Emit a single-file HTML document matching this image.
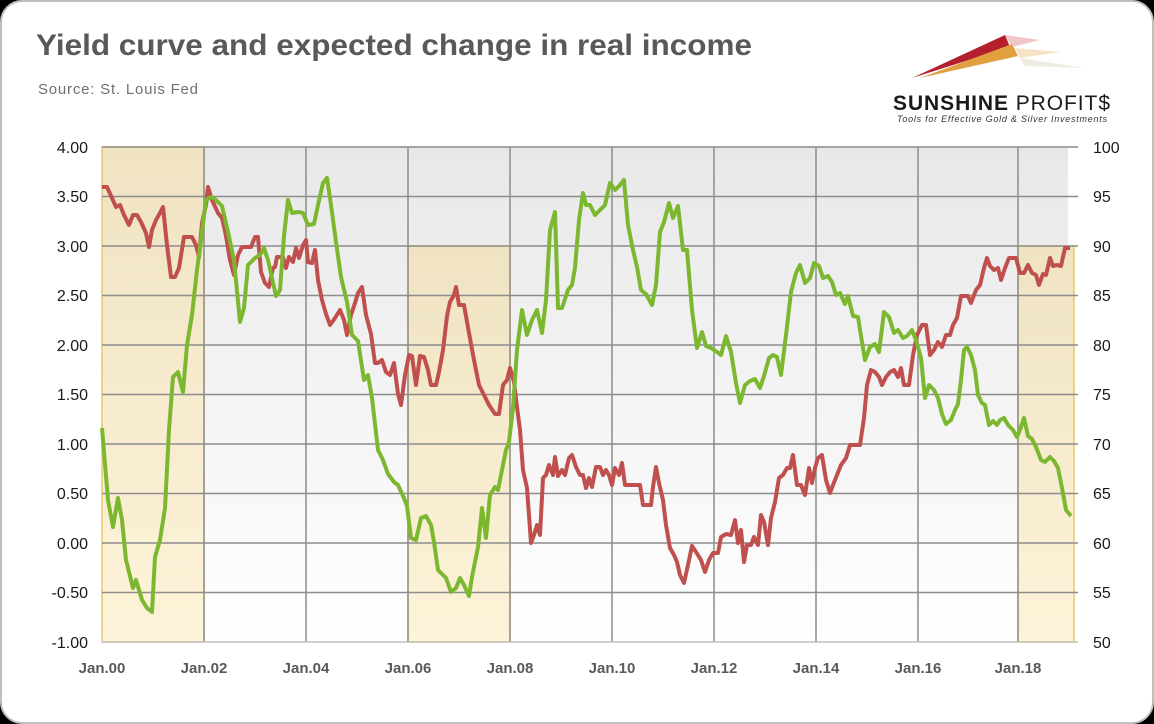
<!DOCTYPE html>
<html><head><meta charset="utf-8"><style>
body{margin:0;background:#000;}
.card{position:absolute;left:0;top:0;width:1150px;height:720px;background:#fff;border:2px solid #bfbfbf;border-radius:22px;overflow:hidden;font-family:"Liberation Sans",sans-serif;}
</style></head><body>
<div class="card">
<svg width="1154" height="724" viewBox="0 0 1154 724" style="position:absolute;left:-2px;top:-2px">
<defs>
<linearGradient id="bg" x1="0" y1="0" x2="0" y2="1"><stop offset="0" stop-color="#e8e8e8"/><stop offset="1" stop-color="#ffffff"/></linearGradient>
<linearGradient id="rc" x1="0" y1="0" x2="0" y2="1"><stop offset="0" stop-color="#f0e3c4"/><stop offset="1" stop-color="#fdf3d8"/></linearGradient>
</defs>
<text x="36" y="55" font-size="30" font-weight="bold" fill="#595959" textLength="716" lengthAdjust="spacingAndGlyphs">Yield curve and expected change in real income</text>
<text x="38" y="94" font-size="15" fill="#707070" textLength="160">Source: St. Louis Fed</text>
<!-- logo -->
<polygon points="912,78 1005,35 1010,47" fill="#b5202e"/>
<polygon points="920,78 1012,44 1018,56" fill="#e0a040"/>
<polygon points="1005,35 1040,40 1012,47" fill="#e8a0a0" opacity="0.6"/>
<polygon points="1015,48 1060,52 1020,58" fill="#f0d0a0" opacity="0.6"/>
<polygon points="1020,58 1085,68 1025,66" fill="#e8e4d8" opacity="0.7"/>
<text x="893" y="110" font-size="21" font-weight="bold" fill="#1a1a1a" textLength="217">SUNSHINE <tspan font-weight="normal">PROFIT$</tspan></text>
<text x="897" y="122" font-size="9" font-style="italic" fill="#333" textLength="210">Tools for Effective Gold &amp; Silver Investments</text>
<rect x="102" y="147" width="966" height="495" fill="url(#bg)"/>
<g fill="url(#rc)" stroke="#e8c96a" stroke-width="1.5">
<rect x="102" y="147" width="102" height="495"/>
<rect x="408" y="246" width="102" height="396"/>
<rect x="1018" y="246" width="56" height="396"/>
</g>
<g stroke="#8c8c8c" stroke-width="1.5">
<line x1="102" y1="147" x2="1078" y2="147"/><line x1="102" y1="196.5" x2="1078" y2="196.5"/><line x1="102" y1="246" x2="1078" y2="246"/><line x1="102" y1="295.5" x2="1078" y2="295.5"/><line x1="102" y1="345" x2="1078" y2="345"/><line x1="102" y1="394.5" x2="1078" y2="394.5"/><line x1="102" y1="444" x2="1078" y2="444"/><line x1="102" y1="493.5" x2="1078" y2="493.5"/><line x1="102" y1="543" x2="1078" y2="543"/><line x1="102" y1="592.5" x2="1078" y2="592.5"/>
<line x1="204" y1="147" x2="204" y2="642"/><line x1="306" y1="147" x2="306" y2="642"/><line x1="408" y1="147" x2="408" y2="642"/><line x1="510" y1="147" x2="510" y2="642"/><line x1="612" y1="147" x2="612" y2="642"/><line x1="714" y1="147" x2="714" y2="642"/><line x1="816" y1="147" x2="816" y2="642"/><line x1="918" y1="147" x2="918" y2="642"/><line x1="1018" y1="147" x2="1018" y2="642"/>
</g>
<line x1="102" y1="642" x2="1078" y2="642" stroke="#bfbfbf" stroke-width="1.5"/>
<g font-size="16" fill="#1a1a1a" text-anchor="end">
<text x="88" y="153">4.00</text><text x="88" y="202">3.50</text><text x="88" y="252">3.00</text><text x="88" y="301">2.50</text><text x="88" y="351">2.00</text><text x="88" y="400">1.50</text><text x="88" y="450">1.00</text><text x="88" y="499">0.50</text><text x="88" y="549">0.00</text><text x="88" y="598">-0.50</text><text x="88" y="648">-1.00</text>
</g>
<g font-size="16" fill="#1a1a1a">
<text x="1093" y="153">100</text><text x="1093" y="202">95</text><text x="1093" y="252">90</text><text x="1093" y="301">85</text><text x="1093" y="351">80</text><text x="1093" y="400">75</text><text x="1093" y="450">70</text><text x="1093" y="499">65</text><text x="1093" y="549">60</text><text x="1093" y="598">55</text><text x="1093" y="648">50</text>
</g>
<g font-size="15" font-weight="bold" fill="#595959" text-anchor="middle">
<text x="102" y="673">Jan.00</text><text x="204" y="673">Jan.02</text><text x="306" y="673">Jan.04</text><text x="408" y="673">Jan.06</text><text x="510" y="673">Jan.08</text><text x="612" y="673">Jan.10</text><text x="714" y="673">Jan.12</text><text x="816" y="673">Jan.14</text><text x="918" y="673">Jan.16</text><text x="1018" y="673">Jan.18</text>
</g>
<polyline fill="none" stroke="#c0504d" stroke-width="4" stroke-linejoin="round" points="102,187 107,187 112,198 116,207 120,205 124,215 129,225 133,215 137,215 141,222 146,233 149,247 152,230 156,220 160,213 163,207 167,245 171,277 175,277 179,268 184,237 192,237 196,245 199,257 202,223 206,205 208,187 212,200 218,213 222,218 226,236 230,260 234,275 238,255 242,247 247,247 251,247 255,237 258,237 261,272 265,283 269,287 273,268 275,267 277,257 283,257 286,268 289,257 293,262 296,248 299,258 303,245 306,240 308,262 312,263 315,250 318,280 322,300 326,314 330,325 335,318 340,310 344,320 347,335 351,315 355,303 358,293 362,287 366,315 371,334 375,363 378,363 382,360 386,372 390,375 394,363 398,394 401,405 405,375 409,355 412,356 416,385 420,356 424,357 428,370 431,385 436,385 439,372 443,350 447,316 450,302 454,295 456,287 459,305 464,305 469,333 474,360 479,385 484,395 489,405 495,414 499,414 503,385 507,380 510,368 514,382 517,407 520,430 523,470 527,488 531,543 534,535 537,525 540,535 543,478 546,475 549,465 553,475 555,457 558,476 562,470 565,475 569,458 572,455 576,467 580,475 583,475 586,488 589,478 592,487 596,467 600,467 603,475 606,470 609,475 612,485 615,468 619,475 622,463 625,485 629,485 632,485 636,485 640,485 643,505 648,505 651,505 653,487 656,467 659,483 663,500 666,525 670,548 674,555 677,562 680,575 684,583 688,565 692,546 696,552 701,560 705,572 709,560 713,553 718,553 721,537 726,534 731,535 735,520 738,543 741,530 744,562 747,545 751,545 754,537 758,545 761,515 764,522 768,545 771,518 775,502 779,478 783,475 787,468 790,468 793,455 797,485 801,485 805,495 809,468 812,483 815,468 818,458 822,455 826,480 830,493 833,485 837,475 841,465 846,458 850,445 855,445 860,445 864,418 867,385 871,370 875,372 879,377 882,385 886,377 890,372 894,370 898,377 901,368 904,385 909,385 913,355 917,335 922,325 926,325 930,355 934,350 938,342 942,347 946,335 950,335 953,325 957,318 961,296 968,296 971,303 976,290 980,285 984,268 987,258 990,266 994,270 998,268 1001,280 1005,268 1009,258 1012,258 1016,258 1020,273 1024,273 1028,265 1032,273 1036,275 1039,285 1043,274 1046,275 1050,258 1053,266 1057,265 1061,266 1065,248 1070,248"/>
<polyline fill="none" stroke="#7cb82f" stroke-width="4" stroke-linejoin="round" points="102,428 108,500 113,527 118,498 122,520 126,560 133,588 136,580 142,600 147,608 152,612 155,557 160,540 165,508 169,430 173,377 178,372 183,392 187,345 192,315 197,270 201,240 206,200 211,197 216,200 222,206 228,232 234,260 240,322 244,308 248,265 255,258 260,255 264,248 268,260 272,278 276,296 280,290 284,236 288,200 292,213 298,212 303,213 308,225 314,224 318,205 323,183 327,178 331,205 336,242 341,277 347,302 352,335 358,341 364,380 368,375 372,398 378,450 383,460 388,474 394,482 398,485 404,498 407,506 411,538 416,540 421,518 426,516 431,525 434,542 438,570 446,578 451,592 456,588 460,578 464,585 469,596 472,577 478,547 482,508 486,538 490,495 495,487 498,490 502,470 506,450 509,442 513,408 517,350 522,310 527,335 532,320 537,310 542,333 546,300 550,230 555,212 558,308 562,308 568,290 572,285 575,268 579,220 583,193 586,205 590,205 595,215 600,210 605,205 610,183 615,190 620,185 624,180 628,225 633,250 637,267 641,290 646,294 652,305 656,285 660,232 664,222 669,203 673,218 678,206 683,250 687,250 692,310 697,348 702,332 706,346 711,348 717,352 721,355 726,336 731,352 736,383 740,403 745,385 750,381 755,379 760,388 764,376 769,358 773,355 777,357 781,375 786,335 791,292 796,273 800,265 805,283 810,278 814,263 819,266 823,278 828,276 832,282 836,295 840,293 845,304 848,296 853,316 858,317 861,336 865,360 870,347 875,344 879,352 884,312 889,317 894,333 898,330 903,338 907,336 912,330 916,340 921,358 925,398 929,385 934,390 938,398 942,414 946,424 951,420 955,410 958,404 961,380 964,350 967,347 971,355 975,370 978,395 982,403 985,405 989,425 993,421 997,425 1000,420 1004,418 1008,425 1013,430 1017,437 1021,427 1024,418 1028,436 1032,439 1036,447 1041,460 1045,462 1050,457 1054,461 1058,468 1062,488 1066,510 1071,516"/>
</svg>
</div>
</body></html>
